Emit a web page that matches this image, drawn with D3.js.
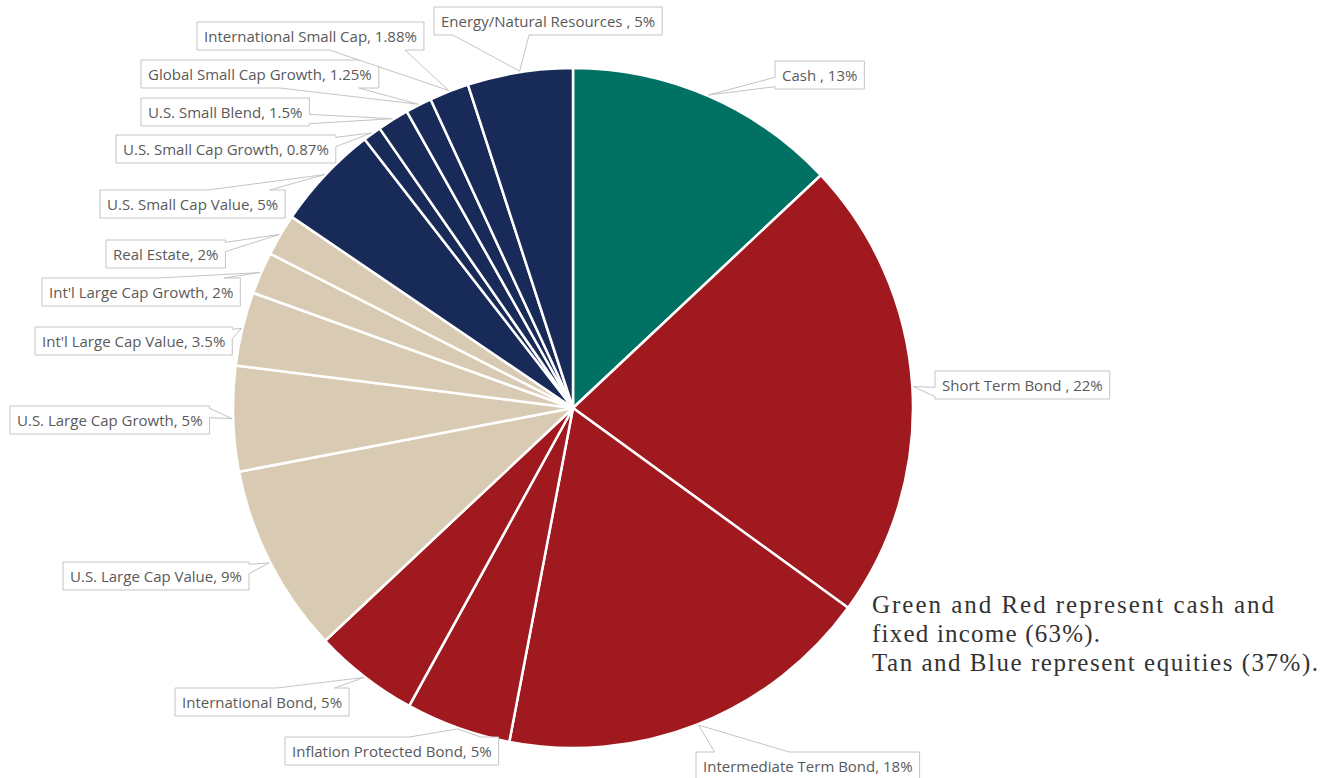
<!DOCTYPE html>
<html><head><meta charset="utf-8">
<script src="https://cdn.jsdelivr.net/npm/d3@7"></script>
<style>html,body{margin:0;padding:0;background:#fff;}</style>
</head><body>
<svg id="chart" width="1332" height="778"></svg>
<script>
const categories = ["Cash ","Short Term Bond ","Intermediate Term Bond","Inflation Protected Bond","International Bond","U.S. Large Cap Value","U.S. Large Cap Growth","Int'l Large Cap Value","Int'l Large Cap Growth","Real Estate","U.S. Small Cap Value","U.S. Small Cap Growth","U.S. Small Blend","Global Small Cap Growth","International Small Cap","Energy/Natural Resources "];
const values = [13,22,18,5,5,9,5,3.5,2,2,5,0.87,1.5,1.25,1.88,5];
const valueLabels = ["13%","22%","18%","5%","5%","9%","5%","3.5%","2%","2%","5%","0.87%","1.5%","1.25%","1.88%","5%"];
const groups = ["cash","fixed","fixed","fixed","fixed","large","large","large","large","large","small","small","small","small","small","small"];
const noteLines = ["Green and Red represent cash and","fixed income (63%).","Tan and Blue represent equities (37%)."];

// layout (label box top-left positions, note line widths)
const labelPos = [[775,61],[935,371],[696,752],[285,737],[175,688],[63,562],[10,406],[35,327],[42,278],[106,240],[100,190],[116,135],[141,98],[141,60],[197,22],[434,7]];
const noteWidths = [402,228,446];

const colorMap = {cash:"#007162", fixed:"#a0191f", large:"#d9cbb3", small:"#182a58"};
const cx = 573, cy = 408, R = 340;
const svg = d3.select("#chart");
const g = svg.append("g").attr("transform",`translate(${cx},${cy})`);

const data = categories.map((c,i)=>({name:c, value:values[i], label:valueLabels[i], group:groups[i], pos:labelPos[i]}));
const pie = d3.pie().sort(null).value(d=>d.value);
const arcs = pie(data);
const arc = d3.arc().innerRadius(0).outerRadius(R);

g.selectAll("path.slice").data(arcs).join("path")
  .attr("class","slice")
  .attr("d",arc)
  .attr("fill",d=>colorMap[d.data.group])
  .attr("stroke","#fff").attr("stroke-width",2.5).attr("stroke-linejoin","round");

// callout labels
const lg = svg.append("g");
arcs.forEach(a=>{
  const mid = (a.startAngle+a.endAngle)/2;
  const tx = cx + (R+1)*Math.sin(mid), ty = cy - (R+1)*Math.cos(mid);
  const [bx,by] = a.data.pos;
  const grp = lg.append("g");
  const h = 28;
  const t = grp.append("text").attr("x",bx+7).attr("y",by+19.5)
    .attr("font-family","'Open Sans', sans-serif").attr("font-size",15)
    .attr("fill","#5a5a5a").text(a.data.name+", "+a.data.label);
  const w = t.node().getComputedTextLength()+14;
  const ccx = bx+w/2, ccy = by+h/2;
  const dx = tx-ccx, dy = ty-ccy;
  let pts;
  const x0=bx,x1=bx+w,y0=by,y1=by+h;
  if (Math.abs(dy)/h > Math.abs(dx)/w) {
    const f = dx>0 ? [7/12,11/12] : [1/12,5/12];
    const xa = bx+w*f[0], xb = bx+w*f[1];
    if (dy>0) pts=[[x0,y0],[x1,y0],[x1,y1],[xb,y1],[tx,ty],[xa,y1],[x0,y1]];
    else pts=[[x0,y0],[xa,y0],[tx,ty],[xb,y0],[x1,y0],[x1,y1],[x0,y1]];
  } else {
    const f = dy>0 ? [7/12,11/12] : [1/12,5/12];
    const ya = by+h*f[0], yb = by+h*f[1];
    if (dx>0) pts=[[x0,y0],[x1,y0],[x1,ya],[tx,ty],[x1,yb],[x1,y1],[x0,y1]];
    else pts=[[x0,y0],[x1,y0],[x1,y1],[x0,y1],[x0,yb],[tx,ty],[x0,ya]];
  }
  grp.insert("path","text").attr("d",d3.line()(pts)+"Z")
    .attr("fill","#fff").attr("stroke","#c4c4c4").attr("stroke-width",1);
});

// note text
const note = svg.append("g").attr("font-family","'Liberation Serif', 'Times New Roman', serif")
  .attr("font-size",25).attr("fill","#333");
noteLines.forEach((l,i)=>{
  note.append("text").attr("x",872).attr("y",613+i*29)
    .attr("textLength",noteWidths[i]).attr("lengthAdjust","spacing").text(l);
});
</script>
</body></html>
